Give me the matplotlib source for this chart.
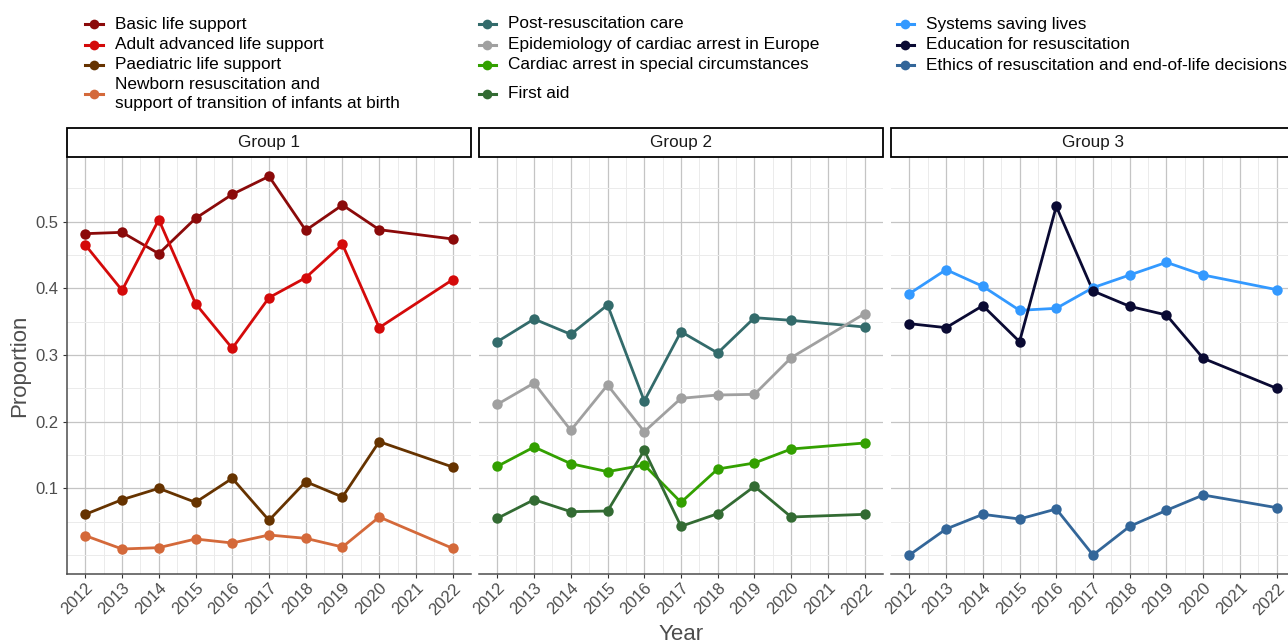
import matplotlib
matplotlib.use("Agg")
import matplotlib.pyplot as plt
from matplotlib.lines import Line2D
from matplotlib.patches import Rectangle

plt.rcParams['font.family'] = ['Liberation Sans', 'DejaVu Sans']

# ---------------------------------------------------------------- data
years = [2012, 2013, 2014, 2015, 2016, 2017, 2018, 2019, 2020, 2022]
year_ticks = list(range(2012, 2023))
y_ticks = [0.1, 0.2, 0.3, 0.4, 0.5]

basic_life_support = [0.482, 0.484, 0.452, 0.505, 0.541, 0.568, 0.487, 0.525, 0.488, 0.474]
adult_als = [0.465, 0.397, 0.503, 0.377, 0.310, 0.386, 0.416, 0.466, 0.341, 0.413]
paediatric = [0.061, 0.083, 0.100, 0.079, 0.115, 0.052, 0.110, 0.087, 0.170, 0.132]
newborn = [0.029, 0.009, 0.011, 0.024, 0.018, 0.030, 0.025, 0.012, 0.057, 0.010]

post_resus = [0.320, 0.354, 0.331, 0.375, 0.231, 0.335, 0.303, 0.356, 0.352, 0.342]
epidemiology = [0.226, 0.258, 0.187, 0.255, 0.185, 0.235, 0.240, 0.241, 0.296, 0.362]
special_circ = [0.133, 0.162, 0.137, 0.125, 0.135, 0.079, 0.129, 0.138, 0.159, 0.168]
first_aid = [0.055, 0.083, 0.065, 0.066, 0.157, 0.043, 0.062, 0.103, 0.057, 0.061]

systems_saving = [0.392, 0.428, 0.403, 0.367, 0.370, 0.401, 0.420, 0.439, 0.420, 0.398]
education = [0.347, 0.341, 0.374, 0.320, 0.523, 0.396, 0.373, 0.360, 0.295, 0.250]
ethics = [0.000, 0.039, 0.061, 0.054, 0.069, 0.000, 0.043, 0.067, 0.090, 0.071]

group_names = ['Group 1', 'Group 2', 'Group 3']
group_series = [
    [('Basic life support', basic_life_support),
     ('Adult advanced life support', adult_als),
     ('Paediatric life support', paediatric),
     ('Newborn resuscitation and\nsupport of transition of infants at birth', newborn)],
    [('Post-resuscitation care', post_resus),
     ('Epidemiology of cardiac arrest in Europe', epidemiology),
     ('Cardiac arrest in special circumstances', special_circ),
     ('First aid', first_aid)],
    [('Systems saving lives', systems_saving),
     ('Education for resuscitation', education),
     ('Ethics of resuscitation and end-of-life decisions', ethics)],
]
group_colors = [
    ['#8B0A0A', '#D40A0A', '#663300', '#D4693A'],
    ['#336B6B', '#A0A0A0', '#33A000', '#336B33'],
    ['#3399FF', '#0A0A33', '#336699'],
]

# ---------------------------------------------------------------- layout
W, H = 1288, 643
fig = plt.figure(figsize=(W / 100, H / 100), dpi=100)

panel_left = [67, 479, 891]
panel_w = 404
panel_top, panel_bot = 157, 574
ph = panel_bot - panel_top

def fx(px):
    return px / W

def fy(py):
    return 1 - py / H

axes = []
for gi, gname in enumerate(group_names):
    ax = fig.add_axes([fx(panel_left[gi]), fy(panel_bot), panel_w / W, ph / H])
    axes.append(ax)
    ax.set_xlim(2011.5, 2022.5)
    ax.set_ylim(-0.0285, 0.597)
    ax.set_xticks(year_ticks)
    ax.set_xticks([y + 0.5 for y in year_ticks[:-1]], minor=True)
    ax.set_yticks(y_ticks)
    ax.set_yticks([0.0, 0.05, 0.15, 0.25, 0.35, 0.45, 0.55], minor=True)
    ax.grid(True, which='major', color='#C4C4C4', lw=0.9)
    ax.grid(True, which='minor', color='#EBEBEB', lw=0.7)
    ax.set_axisbelow(True)
    for s in ['top', 'right']:
        ax.spines[s].set_visible(False)
    ax.spines['bottom'].set_color('#4D4D4D')
    ax.spines['bottom'].set_linewidth(1.1)
    ax.spines['left'].set_color('#4D4D4D')
    ax.spines['left'].set_linewidth(1.1)
    ax.tick_params(which='minor', length=0)
    ax.tick_params(axis='x', which='major', length=2.75, width=0.8, color='#333333',
                   labelsize=12, labelcolor='#4D4D4D', pad=2)
    ax.tick_params(axis='y', which='major', length=2.75, width=0.8, color='#333333',
                   labelsize=12, labelcolor='#4D4D4D', pad=3.5)
    ax.set_xticklabels([str(y) for y in year_ticks], rotation=45, ha='right', va='top',
                       rotation_mode='anchor')
    if gi == 0:
        ax.set_yticklabels([f'{v:.1f}' for v in y_ticks])
    else:
        ax.spines['left'].set_visible(False)
        ax.tick_params(axis='y', which='major', length=0, labelleft=False)

    for (name, vals), col in zip(group_series[gi], group_colors[gi]):
        ax.plot(years, vals, color=col, lw=2.0, zorder=2)
    for (name, vals), col in zip(group_series[gi], group_colors[gi]):
        ax.plot(years, vals, 'o', color=col, ms=7.5, mew=0, zorder=3)

    # facet strip
    sh = 29 / ph
    ax.add_patch(Rectangle((0, 1.0), 1, sh, transform=ax.transAxes, clip_on=False,
                           facecolor='white', edgecolor='black', lw=1.3, zorder=5))
    ax.text(0.5, 1.0 + sh / 2, gname, transform=ax.transAxes, ha='center', va='center',
            fontsize=12.3, color='#1A1A1A', zorder=6)

# axis titles
fig.text(fx(681), fy(635), 'Year', ha='center', va='center', fontsize=16, color='#4D4D4D')
fig.text(fx(20), fy(366), 'Proportion', ha='center', va='center', rotation=90,
         fontsize=16, color='#4D4D4D')

# legend (three columns, rows aligned across columns)
key_x = [94, 487, 905]
row_y = [24, 44.5, 65, 94]
for gi in range(len(group_names)):
    for ri, ((name, vals), col) in enumerate(zip(group_series[gi], group_colors[gi])):
        kx, ky = key_x[gi], row_y[ri]
        fig.add_artist(Line2D([fx(kx - 8.5), fx(kx + 8.5)], [fy(ky), fy(ky)],
                              transform=fig.transFigure, color=col, lw=2.2))
        fig.add_artist(Line2D([fx(kx)], [fy(ky)], transform=fig.transFigure,
                              marker='o', color=col, ms=7, mew=0))
        fig.text(fx(kx + 21), fy(ky), name, ha='left', va='center', fontsize=12.4,
                 color='black', linespacing=1.3)

fig.savefig('out.png', dpi=100)
